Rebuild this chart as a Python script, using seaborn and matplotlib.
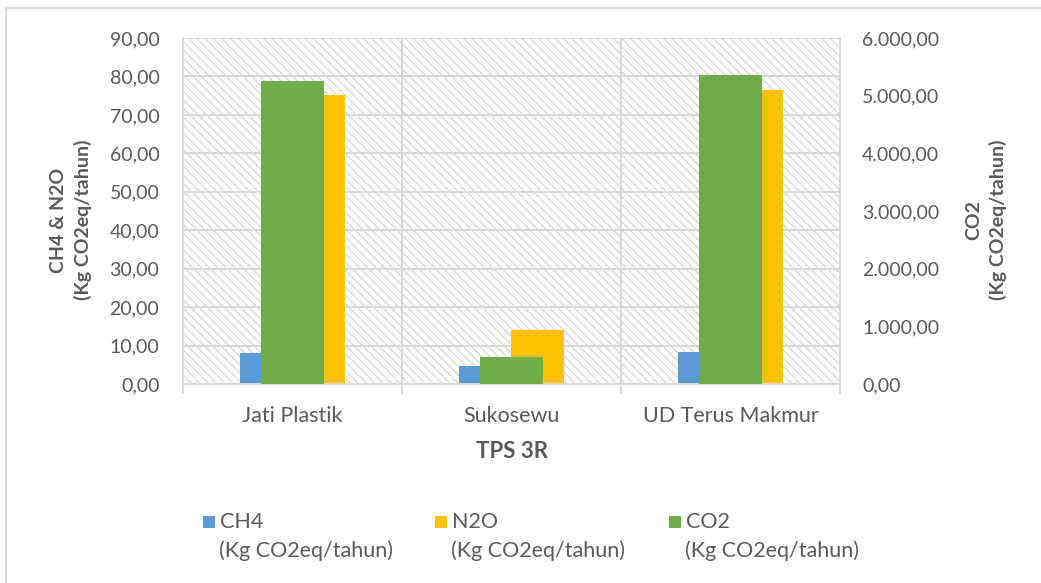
import matplotlib
matplotlib.use("Agg")
import matplotlib.pyplot as plt
from matplotlib.patches import Rectangle
from matplotlib.lines import Line2D
from matplotlib.ticker import FuncFormatter
import numpy as np
import pandas as pd
import seaborn as sns

# Emisi per TPS 3R
sites = ["Jati Plastik", "Sukosewu", "UD Terus Makmur"]
ch4 = [8.0, 4.7, 8.2]
n2o = [75.1, 14.1, 76.5]
co2 = [5255, 465, 5360]
primary_ticks = list(range(0, 91, 10))
secondary_ticks = list(range(0, 6001, 1000))
unit = "(Kg CO2eq/tahun)"
gas_names = ["CH4", "N2O", "CO2"]

BLUE, ORANGE, GREEN = "#5B9BD5", "#FFC000", "#70AD47"
GRID = "#d9d9d9"
TXT = "#595959"

sns.set_theme(style="white")
plt.rcParams["font.family"] = ["Lato", "DejaVu Sans"]
plt.rcParams["hatch.linewidth"] = 0.9
plt.rcParams["hatch.color"] = "#d6d6d6"

W, H = 1041, 583
fig = plt.figure(figsize=(W / 100, H / 100), dpi=100)
fig.patch.set_facecolor("white")
L, R, T, B = 183, 840, 38, 384
ax = fig.add_axes([L / W, 1 - B / H, (R - L) / W, (B - T) / H])

def id_fmt(v, _):
    s = f"{v:,.2f}"
    return s.replace(",", "X").replace(".", ",").replace("X", ".")

# CH4 & N2O on the primary axis
long = pd.DataFrame({
    "site": sites * 2,
    "gas": ["CH4"] * 3 + ["N2O"] * 3,
    "value": ch4 + n2o,
})
sns.barplot(data=long, x="site", y="value", hue="gas", order=sites,
            hue_order=["CH4", "N2O"], palette=[BLUE, ORANGE], width=0.48,
            saturation=1, errorbar=None, ax=ax, legend=False, linewidth=0)

# hatched plot-area background
ax.add_patch(Rectangle((0, 0), 1, 1, transform=ax.transAxes, facecolor="white",
                       edgecolor="#d6d6d6", hatch="\\\\\\\\", linewidth=0, zorder=0.2))
ax.set_ylim(0, 90)
ax.set_xlim(-0.5, 2.5)
ax.set_yticks(primary_ticks)
ax.yaxis.set_major_formatter(FuncFormatter(id_fmt))
ax.yaxis.grid(True, color=GRID, linewidth=1.4, zorder=0.5)
ax.set_axisbelow(True)
for xv in [-0.5, 0.5, 1.5, 2.5]:
    ax.axvline(xv, color=GRID, linewidth=1.4, zorder=0.6, clip_on=False)
for s in ["top", "left", "right"]:
    ax.spines[s].set_visible(False)
ax.spines["bottom"].set_color(GRID)
ax.spines["bottom"].set_linewidth(1.4)
ax.set_xticks([-0.5, 0.5, 1.5, 2.5], minor=True)
ax.tick_params(axis="x", which="minor", length=7, width=1.4, color=GRID, direction="out", bottom=True)
ax.tick_params(axis="x", which="major", length=0, pad=16, labelsize=15.5, labelcolor=TXT)
ax.tick_params(axis="y", length=0, pad=17, labelsize=14, labelcolor=TXT)
ax.set_xlabel("")
ax.set_ylabel("")

# CO2 on the secondary axis
ax2 = ax.twinx()
sns.barplot(x=sites, y=co2, color=GREEN, width=0.286, saturation=1,
            errorbar=None, ax=ax2, linewidth=0)
ax2.set_ylim(0, 6000)
ax2.set_xlim(-0.5, 2.5)
ax2.set_yticks(secondary_ticks)
ax2.yaxis.set_major_formatter(FuncFormatter(id_fmt))
ax2.tick_params(axis="y", length=0, pad=16, labelsize=14, labelcolor=TXT)
ax2.set_ylabel("")
for s in ax2.spines.values():
    s.set_visible(False)

# axis titles
fig.text(71 / W, 1 - 220 / H, "CH4 & N2O\n" + unit, rotation=90, ha="center", va="center",
         multialignment="center", fontsize=14, fontweight="bold", color=TXT, linespacing=1.45)
fig.text(986 / W, 1 - 220 / H, "CO2\n" + unit, rotation=90, ha="center", va="center",
         multialignment="center", fontsize=14, fontweight="bold", color=TXT, linespacing=1.45)
fig.text((L + R) / 2 / W, 1 - 452 / H, "TPS 3R", ha="center", va="center",
         fontsize=16, fontweight="bold", color=TXT)

# legend
for name, col, x0 in zip(gas_names, [BLUE, ORANGE, GREEN], [203, 435, 669]):
    fig.add_artist(Rectangle((x0 / W, 1 - 528 / H), 12 / W, 12 / H,
                             transform=fig.transFigure, facecolor=col, edgecolor="none"))
    fig.text((x0 + 17) / W, 1 - 522 / H, name, ha="left", va="center", fontsize=15.5, color=TXT)
    fig.text((x0 + 16) / W, 1 - 551 / H, unit, ha="left", va="center", fontsize=15.5, color=TXT)

# chart-area border
fig.add_artist(Line2D([6 / W, 1.01], [1 - 8 / H, 1 - 8 / H], transform=fig.transFigure,
                      color=GRID, linewidth=1.5))
fig.add_artist(Line2D([6 / W, 6 / W], [1 - 8 / H, -0.01], transform=fig.transFigure,
                      color=GRID, linewidth=1.5))

fig.savefig("out.png", dpi=100, facecolor="white")
